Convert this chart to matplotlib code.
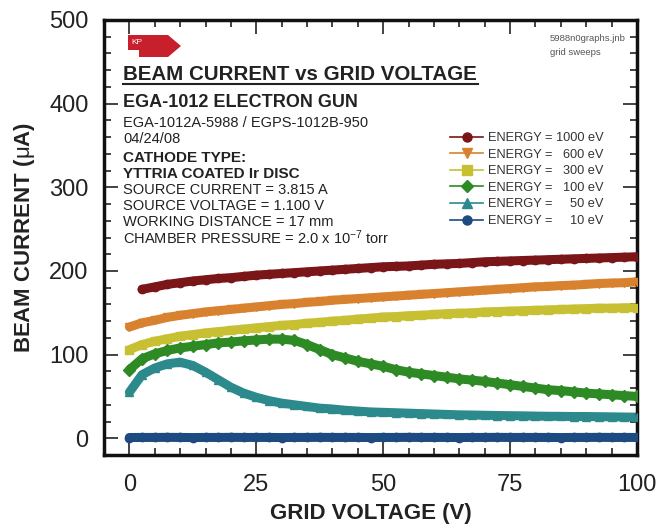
import numpy as np
import matplotlib
matplotlib.use("Agg")
import matplotlib.pyplot as plt
from matplotlib.lines import Line2D
from matplotlib.patches import Polygon

plt.rcParams['font.family'] = ['Liberation Sans', 'DejaVu Sans']
plt.rcParams['mathtext.fontset'] = 'custom'
plt.rcParams['mathtext.rm'] = 'Liberation Sans'
plt.rcParams['mathtext.it'] = 'Liberation Sans'

# grid voltage sweep (V)
grid_voltage = [0, 2.5, 5, 7.5, 10, 12.5, 15, 17.5, 20, 22.5, 25,
                27.5, 30, 32.5, 35, 37.5, 40, 42.5, 45, 47.5, 50,
                52.5, 55, 57.5, 60, 62.5, 65, 67.5, 70, 72.5, 75,
                77.5, 80, 82.5, 85, 87.5, 90, 92.5, 95, 97.5, 100]

# beam current (uA) per beam energy
current_1000 = [np.nan, 178, 181, 184, 186, 188, 189.5, 191, 192, 193.5, 195,
                196, 197, 198, 199, 200, 201, 202, 203, 204, 205,
                205.5, 206, 207, 208, 208.5, 209, 210, 211, 211.5, 212,
                212.5, 213, 213.5, 214, 214.5, 215, 215.5, 216, 216.5, 217]
current_600 = [133, 138, 141, 144.5, 147, 149, 151, 152.5, 154, 155.5, 157,
               158.5, 160, 161, 162.5, 163.5, 165, 166, 167, 168, 169,
               170, 171, 172, 173, 174, 175, 176, 177, 178, 179,
               180, 181, 181.5, 182.5, 183, 184, 185, 185.5, 186, 187]
current_300 = [106, 112, 116, 119, 122, 124, 126, 127.5, 129, 130.5, 132,
               133.5, 135, 136, 137.5, 138.5, 140, 141, 142.5, 143.5, 145,
               145.5, 146.5, 147, 148, 149, 149.5, 150, 151, 151.5, 152,
               152.5, 153, 153.5, 154, 154.5, 155, 155.5, 155.5, 156, 156]
current_100 = [82, 95, 101, 105, 108, 110, 112, 114, 115, 116.5, 117.5,
               118.5, 118.5, 117, 112, 106, 100, 96, 92, 89, 86,
               82, 79, 77, 75, 73, 71, 69.5, 68, 66, 64,
               62, 60, 58, 57, 55.5, 54, 53, 52, 51, 50]
current_50 = [55, 76, 84, 89, 91, 87, 79, 70, 61, 54, 49,
              45, 42, 40, 38, 36, 35, 33.5, 32.5, 31.5, 31,
              30.5, 30, 29.5, 29, 28.5, 28, 27.8, 27.5, 27.2, 27,
              26.8, 26.5, 26.3, 26.2, 26, 26, 25.8, 25.6, 25.4, 25.2]
current_10 = [0.9, 1.0, 1.0, 1.1, 1.0, 0.9, 1.0, 1.0, 1.1, 1.0, 1.0,
              1.0, 0.9, 1.0, 1.0, 1.1, 1.0, 1.0, 1.0, 0.9, 1.0,
              1.0, 1.1, 1.0, 1.0, 1.0, 0.9, 1.0, 1.0, 1.1, 1.0,
              1.0, 1.0, 1.0, 0.9, 1.0, 1.0, 1.1, 1.0, 1.0, 1.0]

legend_labels = ['ENERGY = 1000 eV', 'ENERGY =   600 eV', 'ENERGY =   300 eV',
                 'ENERGY =   100 eV', 'ENERGY =     50 eV', 'ENERGY =     10 eV']

series = [
    (current_1000, '#7a1518', 'o'),
    (current_600, '#d8822f', 'v'),
    (current_300, '#c8c033', 's'),
    (current_100, '#2e8a24', 'D'),
    (current_50, '#2c8a8c', '^'),
    (current_10, '#1d4a80', 'o'),
]

W, H = 657, 529
fig = plt.figure(figsize=(W / 100, H / 100), dpi=100)
ax = fig.add_axes([104 / W, 1 - 455 / H, 533 / W, 435 / H])


def fx(px):
    return px / W


def fy(py):
    return 1 - py / H


handles = []
for vals, col, mk in series:
    ax.plot(grid_voltage, vals, color=col, lw=6.5, solid_capstyle='round',
            zorder=2)
    ax.plot(grid_voltage, vals, color=col, lw=0, marker=mk, ms=6,
            mec=col, zorder=3)
    handles.append(Line2D([], [], color=col, lw=1.2, marker=mk, ms=6.5))

ax.set_xlim(-5, 100)
ax.set_ylim(-20, 500)
ax.set_xticks([0, 25, 50, 75, 100])
ax.set_xticks(np.arange(0, 101, 5), minor=True)
ax.set_yticks([0, 100, 200, 300, 400, 500])
ax.set_yticks(np.arange(0, 501, 20), minor=True)
ax.tick_params(which='both', direction='in', top=True, right=True,
               labelsize=17, colors='#222222', width=1.2)
ax.tick_params(which='major', length=10)
ax.tick_params(which='minor', length=5)
ax.tick_params(axis='x', which='major', pad=14)
ax.tick_params(axis='y', which='major', pad=11)
for sp in ax.spines.values():
    sp.set_linewidth(2.5)
    sp.set_color('#111111')

ax.set_xlabel('GRID VOLTAGE (V)', fontsize=16, fontweight='bold',
              color='#222222', labelpad=5)
ax.set_ylabel('BEAM CURRENT ($\\mu$A)', fontsize=16, fontweight='bold',
              color='#222222', labelpad=9)

ax.legend(handles, legend_labels, loc='upper left',
          bbox_to_anchor=(0.637, 0.757), frameon=False, fontsize=9.2,
          handlelength=2.6, handletextpad=0.35, labelspacing=0.36,
          borderpad=0, labelcolor='#333333')

# KP badge
badge = [(128, 35), (168, 35), (181, 46), (168, 57), (139, 57), (139, 50),
         (128, 50)]
fig.add_artist(Polygon([(fx(x), fy(y)) for x, y in badge], closed=True,
                       transform=fig.transFigure, facecolor='#c81f2d',
                       edgecolor='none'))
fig.text(fx(131), fy(42), 'KP', fontsize=6, color='white', va='center')

# annotation block
tc = '#222222'
fig.text(fx(123), fy(80), 'BEAM CURRENT vs GRID VOLTAGE', fontsize=14.8,
         fontweight='bold', color=tc, va='baseline')
fig.add_artist(Line2D([fx(123), fx(478)], [fy(84), fy(84)], lw=1.5,
                      color=tc, transform=fig.transFigure))
fig.text(fx(123), fy(107), 'EGA-1012 ELECTRON GUN', fontsize=13,
         fontweight='bold', color=tc, va='baseline')
info = [
    (127, 'EGA-1012A-5988 / EGPS-1012B-950', 'normal'),
    (143, '04/24/08', 'normal'),
    (162, 'CATHODE TYPE:', 'bold'),
    (178, 'YTTRIA COATED Ir DISC', 'bold'),
    (194, 'SOURCE CURRENT = 3.815 A', 'normal'),
    (210, 'SOURCE VOLTAGE = 1.100 V', 'normal'),
    (226, 'WORKING DISTANCE = 17 mm', 'normal'),
    (244, 'CHAMBER PRESSURE = 2.0 x 10$^{-7}$ torr', 'normal'),
]
for y, txt, wt in info:
    fig.text(fx(123), fy(y), txt, fontsize=10.5 if wt == 'normal' else 11,
             fontweight=wt, color=tc, va='baseline')

fig.text(fx(550), fy(41), '5988n0graphs.jnb', fontsize=6.8, color='#555555',
         va='baseline')
fig.text(fx(550), fy(55), 'grid sweeps', fontsize=6.8, color='#555555',
         va='baseline')

fig.savefig('out.png', dpi=100)
